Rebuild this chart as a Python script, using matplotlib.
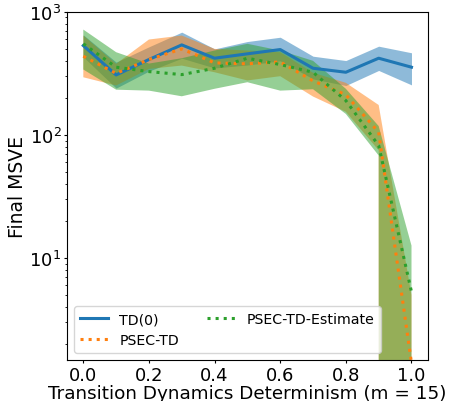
import numpy as np
import matplotlib.pyplot as plt

determinism = [0.0, 0.1, 0.2, 0.3, 0.4, 0.5, 0.6, 0.7, 0.8, 0.9, 1.0]

td_mean = [532, 307, 410, 539, 420, 456, 494, 348, 323, 420, 355]
td_upper = [650, 390, 520, 684, 500, 574, 622, 436, 402, 526, 465]
td_lower = [430, 240, 330, 420, 350, 370, 400, 285, 252, 334, 255]

# lower bounds go below zero at the fully deterministic end (mean - std < 0)
psec_mean = [436, 316, 410, 500, 385, 378, 392, 275, 212, 105, 1.4]
psec_upper = [642, 378, 596, 642, 500, 485, 470, 320, 265, 175, 5]
psec_lower = [294, 252, 344, 366, 323, 277, 300, 205, 154, 75, -2]

est_mean = [550, 355, 327, 309, 348, 420, 373, 323, 190, 82, 5.3]
est_upper = [718, 470, 380, 420, 485, 550, 485, 400, 237, 118, 12.6]
est_lower = [340, 233, 229, 206, 237, 268, 229, 235, 148, 68, -2]

fig = plt.figure(figsize=(4.49, 4.02), dpi=100)
ax = fig.add_axes([0.149, 0.102, 0.804, 0.866])

series = [
    ("TD(0)", td_mean, td_lower, td_upper, "C0", "-"),
    ("PSEC-TD", psec_mean, psec_lower, psec_upper, "C1", ":"),
    ("PSEC-TD-Estimate", est_mean, est_lower, est_upper, "C2", ":"),
]
for label, mean, lo, hi, color, ls in series:
    ax.plot(determinism, mean, color=color, linestyle=ls, linewidth=2.2, label=label)
    ax.fill_between(determinism, lo, hi, color=color, alpha=0.5, linewidth=0)

ax.set_yscale("log", nonpositive="clip")
ax.set_ylim(1.48, 1000)
ax.set_xlim(-0.05, 1.05)
ax.set_xticks([0.0, 0.2, 0.4, 0.6, 0.8, 1.0])
ax.tick_params(labelsize=13, length=2.5, pad=1.5)
ax.tick_params(which="minor", length=1.5)
ax.set_xlabel("Transition Dynamics Determinism (m = 15)", fontsize=13.2, labelpad=0)
ax.set_ylabel("Final MSVE", fontsize=13.5, labelpad=2)
ax.legend(loc="lower left", ncol=2, fontsize=10.2)

fig.savefig("out.png", dpi=100)
